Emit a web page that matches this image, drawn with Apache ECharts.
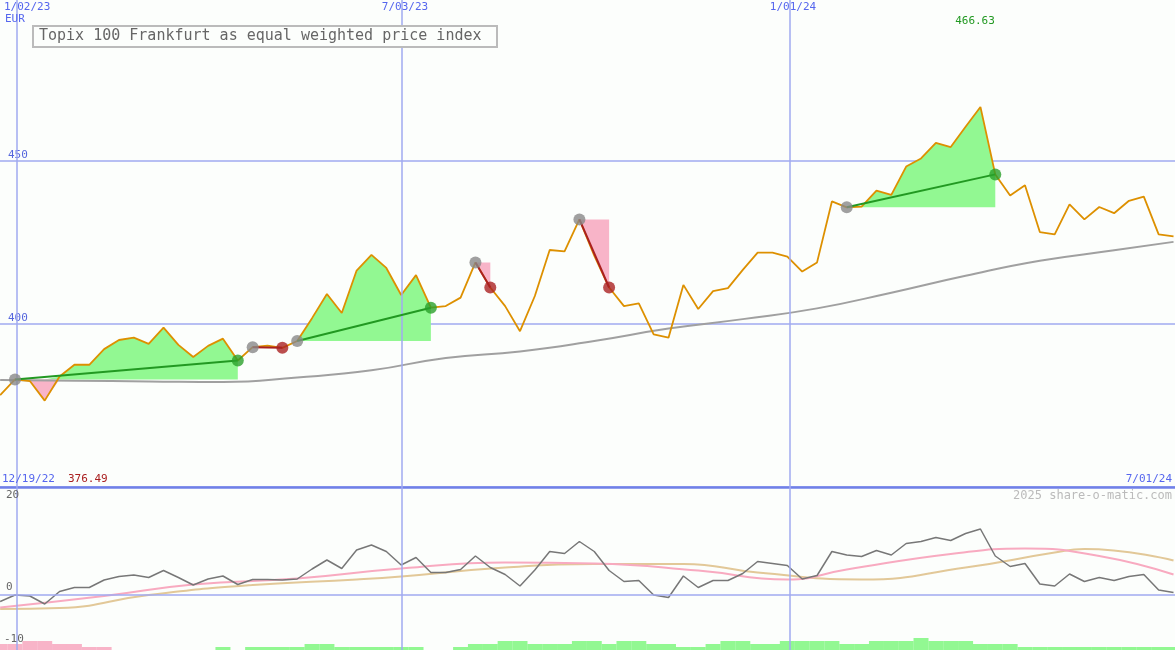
<!DOCTYPE html>
<html><head><meta charset="utf-8">
<script src="https://cdn.jsdelivr.net/npm/echarts@6/dist/echarts.min.js"></script>
<style>html,body{margin:0;padding:0;background:#fcfefc}#c{width:1175px;height:650px}</style>
</head><body><div id="c"></div>
<script>
// weeks since 1/02/23 (first value is week -1)
const startWeek = -1;
const price = [378.2,383.0,382.5,376.5,383.9,387.5,387.5,392.3,395.1,395.8,393.9,398.9,393.6,389.9,393.3,395.5,388.8,392.9,393.4,392.7,394.8,401.8,409.2,403.4,416.4,421.2,417.2,408.9,415.0,405.0,405.5,408.1,418.9,411.2,405.5,397.8,408.6,422.7,422.3,432.1,421.0,411.2,405.5,406.3,396.8,395.8,412.0,404.6,410.1,411.0,416.6,421.9,421.9,420.7,416.1,418.9,437.6,435.8,436.0,440.9,439.6,448.3,450.8,455.6,454.3,460.5,466.6,445.9,439.4,442.6,428.2,427.5,436.7,432.1,435.9,434.0,437.8,439.1,427.5,426.9];
const maWeeks = [-1,4,9,14,19,24,29,34,39,44,49,54,59,64,69,74,78];
const maValues = [382.8,382.6,382.4,382.2,383.6,385.8,389.6,391.6,394.8,398.6,401.5,404.8,409.6,414.8,419.4,422.6,425.2];
const signals = [[0,15,'up'],[16,18,'down'],[19,28,'up'],[31,32,'down'],[38,40,'down'],[56,66,'up']];
const osc = [-1.3,0,-0.2,-1.8,0.7,1.5,1.5,3.0,3.7,4.0,3.5,4.9,3.5,2.0,3.2,3.8,2.1,3.1,3.1,3.0,3.2,5.2,7.0,5.3,9.0,10.0,8.7,6.0,7.5,4.5,4.5,5.1,7.8,5.5,4.1,1.8,5.0,8.7,8.3,10.7,8.7,4.9,2.7,2.9,0,-0.5,3.8,1.5,2.9,2.9,4.3,6.7,6.3,5.9,3.2,3.9,8.7,8.0,7.7,8.9,8.0,10.3,10.7,11.5,10.9,12.3,13.2,7.8,5.7,6.3,2.2,1.8,4.2,2.7,3.5,2.9,3.7,4.1,1.0,0.5];
const pinkWeeks = [-1,6,12,19,26,33,39,46,52,56,63,68,73,78];
const pinkValues = [-2.5,-0.2,2.1,3.3,5.3,6.5,6.3,4.9,3.1,5.1,8.2,9.3,7.8,4.1];
const tanWeeks = [-1,3,9,16,23,26,33,39,45,50,57,64,70,72,78];
const tanValues = [-2.8,-2.6,0,2.0,3.1,3.7,5.5,6.2,6.2,4.5,3.1,5.5,8.5,9.2,6.9];
const barLevels = [-2,-2,-3,-3,-2,-2,-1,-1,0,0,0,0,0,0,0,1,0,1,1,1,1,2,2,1,1,1,1,1,1,0,0,1,2,2,3,3,2,2,2,3,3,2,3,3,2,2,1,1,2,3,3,2,2,3,3,3,3,2,2,3,3,3,4,3,3,3,2,2,2,1,1,1,1,1,1,1,1,1,1,1];
const dateLines = [0.135, 26.06, 52.19];
const topLabels = ['1/02/23','7/03/23','1/01/24'];

const W = i => i + startWeek;
const P = w => price[w - startWeek];
const BL = '#a0aaf0', MONO = 'DejaVu Sans Mono';
const vLines = {silent:true,symbol:'none',label:{show:false},lineStyle:{color:BL,width:1.5,type:'solid'},data:dateLines.map(x=>({xAxis:x}))};

const chart = echarts.init(document.getElementById('c'));
const scatterData = [];
signals.forEach(([s,e,t])=>{
  scatterData.push({value:[s,P(s)],itemStyle:{color:'#888888'}});
  scatterData.push({value:[e,P(e)],itemStyle:{color:t==='up'?'#2aa02a':'#aa2222'}});
});
function fillItem(params, api){
  const [s,e,t] = signals[params.dataIndex];
  const base = P(s);
  const up=[], dn=[];
  for(let w=s; w<=e; w++){ up.push(api.coord([w,Math.max(P(w),base)])); dn.push(api.coord([w,Math.min(P(w),base)])); }
  const b1=api.coord([e,base]), b0=api.coord([s,base]);
  return {type:'group',children:[
    {type:'polygon',shape:{points:up.concat([b1,b0])},style:{fill:'#92f892'}},
    {type:'polygon',shape:{points:dn.concat([b1,b0])},style:{fill:'#f8b4c8'}}
  ]};
}
const txt = (x,y,t,c,al,sz)=>({type:'text',x:x,y:y,style:{text:t,fill:c,font:(sz||11)+'px "'+MONO+'"',textAlign:al||'left'},z:50});

chart.setOption({
  backgroundColor:'#fcfefc', animation:false,
  grid:[{left:0,right:0,top:0,height:487},{left:0,right:0,top:487,height:163}],
  xAxis:[
    {type:'value',gridIndex:0,min:-1.01,max:78.1,axisLine:{show:true,onZero:false,lineStyle:{color:'#7080e8',width:2.5}},axisTick:{show:false},axisLabel:{show:false},splitLine:{show:false}},
    {type:'value',gridIndex:1,min:-1.01,max:78.1,axisLine:{show:false},axisTick:{show:false},axisLabel:{show:false},splitLine:{show:false}}
  ],
  yAxis:[
    {type:'value',gridIndex:0,min:350,max:499.4,interval:50,axisLine:{show:false},axisTick:{show:false},
     axisLabel:{inside:true,color:'#5566dd',fontFamily:MONO,fontSize:11,verticalAlign:'bottom',margin:8,formatter:v=>(v===400||v===450)?String(v):''},
     splitLine:{showMaxLine:false,lineStyle:{color:BL,width:1.5}}},
    {type:'value',gridIndex:1,min:-11,max:21.6,show:false,splitLine:{show:false}},
    {type:'value',gridIndex:1,min:0,max:54.33,show:false,splitLine:{show:false}}
  ],
  series:[
    {type:'line',xAxisIndex:0,yAxisIndex:0,data:[],markLine:vLines},
    {type:'custom',xAxisIndex:0,yAxisIndex:0,renderItem:fillItem,data:signals.map((s,i)=>i),z:2},
    {type:'line',xAxisIndex:0,yAxisIndex:0,data:maWeeks.map((w,i)=>[w,maValues[i]]),smooth:true,symbol:'none',lineStyle:{color:'#a0a0a0',width:2},z:3},
    {type:'line',xAxisIndex:0,yAxisIndex:0,data:price.map((v,i)=>[W(i),v]),symbol:'none',lineStyle:{color:'#dd9000',width:1.8},z:4},
    ...signals.map(([s,e,t])=>({type:'line',xAxisIndex:0,yAxisIndex:0,data:[[s,P(s)],[e,P(e)]],symbol:'none',lineStyle:{color:t==='up'?'#229922':'#aa2020',width:2},z:5})),
    {type:'scatter',xAxisIndex:0,yAxisIndex:0,data:scatterData,symbolSize:12,z:6},
    {type:'bar',xAxisIndex:1,yAxisIndex:2,barWidth:15,data:barLevels.map((l,i)=>({value:[W(i),Math.abs(l)],itemStyle:{color:l<0?'#f8b4c8':'#92f892'}})),z:1},
    {type:'line',xAxisIndex:1,yAxisIndex:1,data:[],markLine:{silent:true,symbol:'none',label:{show:false},lineStyle:{color:BL,width:1.5,type:'solid'},data:dateLines.map(x=>({xAxis:x})).concat([{yAxis:0}])}},
    {type:'line',xAxisIndex:1,yAxisIndex:1,data:tanWeeks.map((w,i)=>[w,tanValues[i]]),smooth:true,symbol:'none',lineStyle:{color:'#e2c898',width:2},z:3},
    {type:'line',xAxisIndex:1,yAxisIndex:1,data:pinkWeeks.map((w,i)=>[w,pinkValues[i]]),smooth:true,symbol:'none',lineStyle:{color:'#f8aac0',width:2},z:3},
    {type:'line',xAxisIndex:1,yAxisIndex:1,data:osc.map((v,i)=>[W(i),v]),symbol:'none',lineStyle:{color:'#777777',width:1.5},z:4}
  ],
  graphic:[
    {type:'rect',shape:{x:33,y:26,width:464,height:21},style:{fill:'#fcfefc',stroke:'#bbbbbb',lineWidth:2},z:40},
    txt(39,29,'Topix 100 Frankfurt as equal weighted price index','#666666','left',15),
    txt(4,2,topLabels[0],'#5566ee'), txt(5,14,'EUR','#5566ee'),
    txt(405,2,topLabels[1],'#5566ee','center'), txt(793,2,topLabels[2],'#5566ee','center'),
    txt(975,16,'466.63','#229922','center'),
    txt(2,474,'12/19/22','#5566ee'), txt(68,474,'376.49','#aa2020'),
    txt(1172,474,'7/01/24','#5566ee','right'),
    txt(1172,490,'2025 share-o-matic.com','#bbbbbb','right',12),
    txt(6,490,'20','#666666'), txt(6,582,'0','#666666'), txt(4,634,'-10','#666666')
  ]
});
</script></body></html>
